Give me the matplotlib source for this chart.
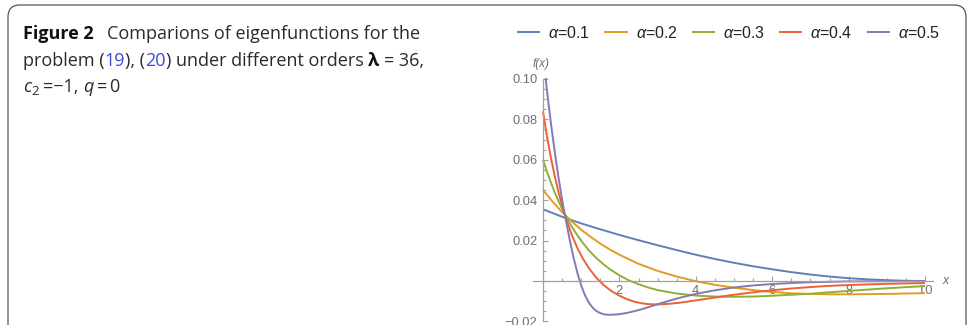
import numpy as np
import matplotlib
matplotlib.use("Agg")
import matplotlib.pyplot as plt
from matplotlib.patches import FancyBboxPatch
from matplotlib.transforms import IdentityTransform
from matplotlib.ticker import FixedLocator

W, H = 969, 325

# eigenfunction curves, one list per order alpha
x_a1 = [0, 0.5, 1.0, 1.5, 2.0, 2.5, 3.0, 3.5, 4.0, 4.5, 5.0, 5.5, 6.0, 6.5, 7.0, 7.5, 8.0, 8.5,
        9.0, 9.5, 10.0]
f_a1 = [0.0355, 0.0318, 0.0285, 0.0256, 0.0228, 0.0202, 0.0177, 0.0153, 0.0130, 0.0109, 0.0090,
        0.0073, 0.0058, 0.0044, 0.0032, 0.0022, 0.0014, 0.0008, 0.0004, 0.0001, 0.0]

x_a2 = [0, 0.25, 0.5, 0.75, 1.0, 1.25, 1.5, 1.75, 2.0, 2.5, 3.0, 3.5, 4.0, 4.5, 5.0, 5.5, 6.0,
        6.5, 7.0, 7.5, 8.0, 9.0, 10.0]
f_a2 = [0.0450, 0.0393, 0.0341, 0.0295, 0.0254, 0.0218, 0.0185, 0.0156, 0.0130, 0.0085, 0.0050,
        0.0022, -0.0001, -0.0019, -0.0033, -0.0045, -0.0054, -0.0061, -0.0064, -0.0066, -0.0066,
        -0.0064, -0.0060]

x_a3 = [0, 0.1, 0.2, 0.3, 0.4, 0.5, 0.6, 0.75, 0.9, 1.05, 1.2, 1.4, 1.6, 1.8, 2.0, 2.25, 2.5, 2.75,
        3.0, 3.5, 4.0, 4.5, 5.0, 5.5, 6.0, 7.0, 8.0, 9.0, 10.0]
f_a3 = [0.0600, 0.0543, 0.0491, 0.0442, 0.0398, 0.0358, 0.0320, 0.0270, 0.0226, 0.0187, 0.0152,
        0.0113, 0.0080, 0.0052, 0.0028, 0.0003, -0.0016, -0.0032, -0.0045, -0.0062, -0.0072,
        -0.0077, -0.0078, -0.0077, -0.0073, -0.0063, -0.0049, -0.0036, -0.0025]

x_a4 = [0, 0.1, 0.2, 0.3, 0.4, 0.5, 0.6, 0.75, 0.9, 1.05, 1.2, 1.4, 1.6, 1.8, 2.0, 2.2, 2.4, 2.6,
        2.8, 3.0, 3.3, 3.6, 4.0, 4.5, 5.0, 5.5, 6.0, 6.5, 7.0, 7.5, 8.0, 9.0, 10.0]
f_a4 = [0.0840, 0.0721, 0.0617, 0.0525, 0.0444, 0.0373, 0.0310, 0.0230, 0.0163, 0.0109, 0.0064,
        0.0015, -0.0022, -0.0051, -0.0073, -0.0090, -0.0103, -0.0111, -0.0115, -0.0116, -0.0113,
        -0.0107, -0.0096, -0.0082, -0.0068, -0.0056, -0.0046, -0.0037, -0.0030, -0.0024, -0.0020,
        -0.0014, -0.0010]

x_a5 = [0.06, 0.1, 0.15, 0.2, 0.25, 0.3, 0.35, 0.4, 0.45, 0.5, 0.55, 0.6, 0.7, 0.8, 0.9, 1.0, 1.1,
        1.2, 1.3, 1.4, 1.5, 1.6, 1.7, 1.8, 1.9, 2.0, 2.2, 2.4, 2.6, 2.8, 3.0, 3.3, 3.6, 4.0, 4.5,
        5.0, 5.5, 6.0, 6.5, 7.0, 8.0, 9.0, 10.0]
f_a5 = [0.1020, 0.0950, 0.0870, 0.0793, 0.0720, 0.0650, 0.0583, 0.0520, 0.0460, 0.0403, 0.0350,
        0.0300, 0.0203, 0.0116, 0.0040, -0.0022, -0.0071, -0.0107, -0.0132, -0.0149, -0.0159,
        -0.0165, -0.0167, -0.0167, -0.0166, -0.0164, -0.0158, -0.0149, -0.0139, -0.0127, -0.0115,
        -0.0098, -0.0082, -0.0064, -0.0046, -0.0032, -0.0022, -0.0015, -0.0010, -0.0006, -0.0002,
        -0.0001, 0.0]

series = [(x_a1, f_a1), (x_a2, f_a2), (x_a3, f_a3), (x_a4, f_a4), (x_a5, f_a5)]
labels = [r"$\alpha$=0.1", r"$\alpha$=0.2", r"$\alpha$=0.3", r"$\alpha$=0.4", r"$\alpha$=0.5"]
colors = ["#5E81B5", "#E19C24", "#8FB032", "#EB6235", "#8778B3"]

x_major = [2, 4, 6, 8, 10]
x_minor = [v for v in np.arange(0.5, 10.01, 0.5) if v not in x_major]
y_major = [-0.02, 0.02, 0.04, 0.06, 0.08, 0.10]
y_minor = [v for v in np.arange(-0.02, 0.1001, 0.005)]

plt.rcParams["mathtext.fontset"] = "custom"
plt.rcParams["mathtext.rm"] = "Liberation Sans"
plt.rcParams["mathtext.it"] = "Liberation Sans:italic"
plt.rcParams["mathtext.bf"] = "Liberation Sans:bold"

fig = plt.figure(figsize=(W / 100, H / 100), dpi=100)

# frame around the figure panel
frame = FancyBboxPatch((8, -20), 958, H - 5 + 20, boxstyle="round,pad=0,rounding_size=12",
                       transform=IdentityTransform(), facecolor="none", edgecolor="#555555", lw=0.9)
fig.add_artist(frame)

# plot area, x from -0.27 to 10.2, y from -0.021 to 0.1005
x0, x1 = -0.27, 10.2
y0, y1 = -0.021, 0.1005
sx, sy = 38.2, 2020.0
left_px = 543 + sx * x0
right_px = 543 + sx * x1
top_px = 281 - sy * y1
bot_px = 281 - sy * y0
ax = fig.add_axes([left_px / W, 1 - bot_px / H, (right_px - left_px) / W, (bot_px - top_px) / H])
ax.set_xlim(x0, x1)
ax.set_ylim(y0, y1)
ax.patch.set_visible(False)

for (xs, fs), lab, c in zip(series, labels, colors):
    ax.plot(xs, fs, color=c, lw=1.4, label=lab, solid_capstyle="butt", solid_joinstyle="round")

axis_col = "#a0a0a0"
lab_col = "#707070"
for side in ["top", "right"]:
    ax.spines[side].set_visible(False)
ax.spines["left"].set_position(("data", 0))
ax.spines["bottom"].set_position(("data", 0))
ax.spines["left"].set_bounds(-0.02, 0.10)
for side in ["left", "bottom"]:
    ax.spines[side].set_color(axis_col)
    ax.spines[side].set_linewidth(0.9)

ax.xaxis.set_major_locator(FixedLocator(x_major))
ax.xaxis.set_minor_locator(FixedLocator(x_minor))
ax.yaxis.set_major_locator(FixedLocator(y_major))
ax.yaxis.set_minor_locator(FixedLocator(y_minor))
ax.set_xticklabels([str(v) for v in x_major])
ax.set_yticklabels(["\u22120.02", "0.02", "0.04", "0.06", "0.08", "0.10"])
ax.tick_params(which="both", direction="in", color=axis_col, width=0.8)
ax.tick_params(which="major", length=3.5)
ax.tick_params(which="minor", length=2)
ax.tick_params(axis="x", which="major", pad=3, labelsize=9.3, labelcolor=lab_col)
ax.tick_params(axis="y", which="major", pad=4, labelsize=9.3, labelcolor=lab_col)
for t in ax.get_xticklabels() + ax.get_yticklabels():
    t.set_fontfamily("Liberation Sans")

ax.text(10.55, 0, "x", style="italic", color=lab_col, fontsize=9, family="Liberation Sans",
        ha="center", va="center", clip_on=False)
ax.text(-0.05, 0.1075, "f(x)", style="italic", color=lab_col, fontsize=8.5, family="Liberation Sans",
        ha="center", va="center", clip_on=False)

leg = ax.legend(loc="center left", bbox_to_anchor=(517 / W, 1 - 33 / H), bbox_transform=fig.transFigure,
                ncol=5, frameon=False, fontsize=11.5, handlelength=1.45, handletextpad=0.5,
                columnspacing=0.9, borderpad=0, borderaxespad=0)
for t in leg.get_texts():
    t.set_color("#222222")
    t.set_fontfamily("Liberation Sans")

# caption, set piece by piece on three lines
renderer = fig.canvas.get_renderer()
cap = dict(family="Open Sans", fontsize=13, color="#2a2a2a")


def width_of(s, **kw):
    t = fig.text(0, 0, s, **kw)
    w = t.get_window_extent(renderer).width
    t.remove()
    return w


space = width_of("x x", **cap) - width_of("xx", **cap)


def put_line(x, y, pieces):
    cx = x
    for s, kw, dy in pieces:
        if kw is None:
            cx += s
            continue
        t = fig.text(cx / W, 1 - (y + dy) / H, s, ha="left", va="baseline", **kw)
        cx += t.get_window_extent(renderer).width


bold = dict(cap, weight="bold", color="#111111")
ital = dict(cap, style="italic")
blue = dict(cap, color="#3a4fd6")
sub = dict(cap, fontsize=9.5)

put_line(23, 39, [("Figure 2", bold, 0), (13, None, 0),
                  ("Comparions of eigenfunctions for the", cap, 0)])
put_line(23, 66, [("problem (", cap, 0), ("19", blue, 0), ("), (", cap, 0), ("20", blue, 0),
                  (") under different orders", cap, 0), (space, None, 0), ("\u03bb", bold, 0),
                  (space, None, 0), ("= 36,", cap, 0)])
put_line(23, 92, [("c", ital, 0), ("2", sub, 3), (space, None, 0), ("=\u22121,", cap, 0),
                  (space, None, 0), ("q", ital, 0), (space * 0.6, None, 0), ("=", cap, 0),
                  (space * 0.4, None, 0), ("0", cap, 0)])

fig.savefig("out.png", dpi=100)
